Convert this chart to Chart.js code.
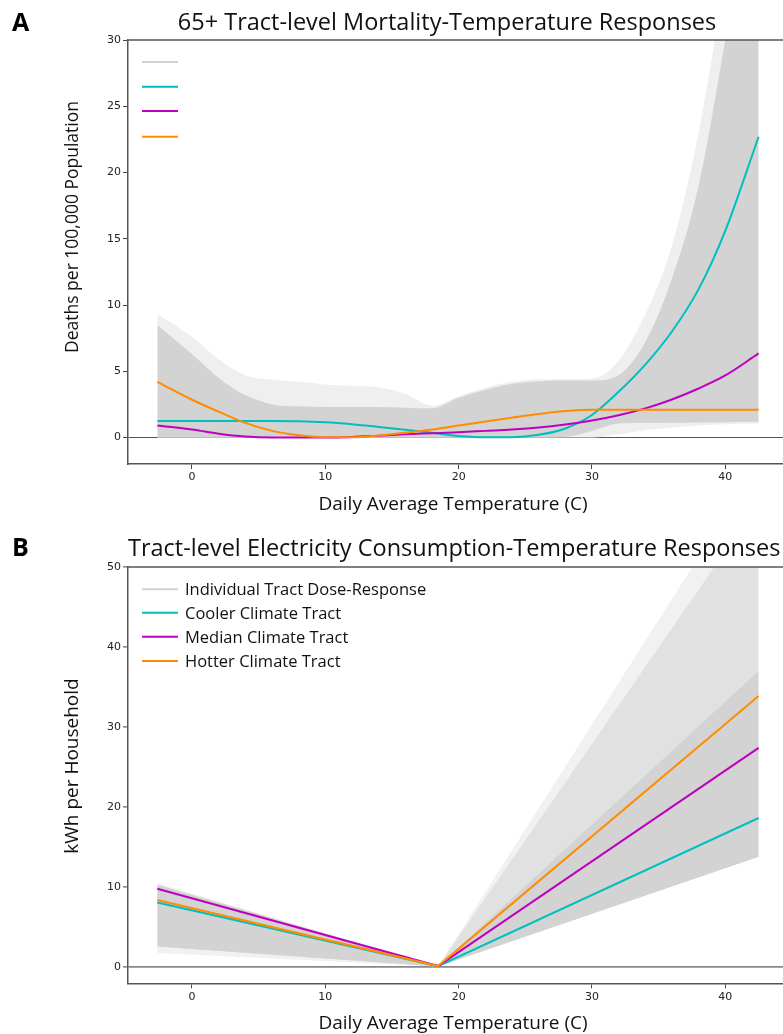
<!DOCTYPE html>
<html>
<head>
<meta charset="utf-8">
<script src="https://cdn.jsdelivr.net/npm/chart.js@4.4.1/dist/chart.umd.min.js"></script>
<style>
  body { margin: 0; background: #fff; }
  #wrap { position: relative; width: 783px; height: 1034px; overflow: hidden; }
  #top { position: absolute; left: 0; top: 0; }
  #bot { position: absolute; left: 0; top: 520px; }
</style>
</head>
<body>
<div id="wrap">
  <canvas id="top" width="783" height="520"></canvas>
  <canvas id="bot" width="783" height="514"></canvas>
</div>
<script>
// shared temperature ticks (deg C)
const xTicks = [0, 10, 20, 30, 40];

// panel A: mortality per 100,000 (65+)
const mortTemps    = [-2.6, 0, 2, 4, 6, 8, 10, 12, 14, 16, 18, 20, 22, 24, 26, 28, 30, 32, 34, 36, 38, 40, 42.5];
const mortCooler   = [1.25, 1.25, 1.25, 1.25, 1.25, 1.23, 1.15, 1.0, 0.8, 0.58, 0.35, 0.12, 0.02, 0.02, 0.2, 0.68, 1.7, 3.45, 5.5, 8.0, 11.2, 15.6, 22.7];
const mortMedian   = [0.9, 0.6, 0.28, 0.07, 0.0, 0.0, 0.0, 0.04, 0.14, 0.24, 0.32, 0.4, 0.5, 0.6, 0.75, 0.98, 1.28, 1.68, 2.2, 2.87, 3.7, 4.68, 6.35];
const mortHotter   = [4.2, 2.85, 1.95, 1.1, 0.5, 0.17, 0.02, 0.02, 0.15, 0.35, 0.6, 0.9, 1.2, 1.5, 1.78, 2.0, 2.1, 2.1, 2.1, 2.1, 2.1, 2.1, 2.1];
// spread of the individual tract curves (dense core and faint outliers)
const mortBandLow  = [0, 0, 0, 0, 0, 0, 0, 0, 0, 0, 0, 0, 0, 0, 0, 0.05, 0.5, 1.05, 1.1, 1.12, 1.14, 1.16, 1.18];
const mortBandHigh = [8.5, 6.3, 4.5, 3.2, 2.5, 2.35, 2.3, 2.3, 2.3, 2.25, 2.2, 3.0, 3.6, 4.05, 4.25, 4.3, 4.3, 4.7, 7.2, 12, 19, 30, 45];
const mortOuterLow = [0, 0, 0, 0, 0, 0, 0, 0, 0, 0, 0, 0, 0, 0, 0, 0, 0, 0.25, 0.55, 0.75, 0.9, 1.0, 1.05];
const mortOuterHigh= [9.3, 7.6, 5.9, 4.7, 4.35, 4.2, 4.0, 3.9, 3.8, 3.3, 2.4, 3.1, 3.75, 4.2, 4.4, 4.4, 4.45, 5.8, 9.3, 14.5, 23, 35, 52];
const mortTicks    = [0, 5, 10, 15, 20, 25, 30];

// panel B: electricity kWh per household
const elecTemps    = [-2.6, 18.45, 42.5];
const elecCooler   = [8.1, 0.15, 18.65];
const elecMedian   = [9.8, 0.15, 27.4];
const elecHotter   = [8.4, 0.15, 33.9];
const elecBandLow  = [2.6, 0.1, 13.8];
const elecBandHigh = [10.3, 0.1, 37];
const elecMidHigh  = [10.3, 0.1, 58];
const elecOuterLow = [1.8, 0.1, 13.8];
const elecOuterHigh= [10.5, 0.1, 63];
const elecTicks    = [0, 10, 20, 30, 40, 50];

const legendLabels = ['Individual Tract Dose-Response', 'Cooler Climate Tract', 'Median Climate Tract', 'Hotter Climate Tract'];

const CYAN = '#00bfbf', MAGENTA = '#bf00bf', ORANGE = '#ff8c00', GREY = '#d3d3d3';
const legendColors = [GREY, CYAN, MAGENTA, ORANGE];
const TXT = '"Open Sans", sans-serif';

Chart.defaults.font.family = '"DejaVu Sans", sans-serif';
Chart.defaults.font.size = 11;
Chart.defaults.color = '#222';

function pts(xs, ys) {
  return xs.map((x, i) => ({ x: x, y: ys[i] }));
}

function area(xs, ys, fillColor, order, smooth) {
  return {
    data: pts(xs, ys),
    borderWidth: 0,
    borderColor: 'rgba(0,0,0,0)',
    pointRadius: 0,
    fill: fillColor ? '-1' : false,
    backgroundColor: fillColor || 'rgba(0,0,0,0)',
    order: order,
    cubicInterpolationMode: smooth ? 'monotone' : 'default'
  };
}

function curve(xs, ys, color, order, smooth) {
  return {
    data: pts(xs, ys),
    borderColor: color,
    borderWidth: 2,
    pointRadius: 0,
    fill: false,
    order: order,
    cubicInterpolationMode: smooth ? 'monotone' : 'default'
  };
}

function xScale(h) {
  return {
    type: 'linear', min: -4.8, max: 44.33,
    afterBuildTicks: s => { s.ticks = xTicks.map(v => ({ value: v })); },
    afterFit: s => { s.height = h; s.paddingLeft = 0; s.paddingRight = 0; },
    grid: { drawOnChartArea: false, drawTicks: true, tickLength: 5, tickColor: '#444', tickWidth: 1 },
    border: { display: true, color: '#555', width: 1.5 },
    ticks: { padding: 2, maxRotation: 0 }
  };
}

function yScale(min, max, ticks, zeroColor, zeroWidth) {
  return {
    type: 'linear', min: min, max: max,
    afterBuildTicks: s => { s.ticks = ticks.map(v => ({ value: v })); },
    afterFit: s => { s.width = 128; s.paddingTop = 0; s.paddingBottom = 0; },
    grid: {
      color: c => (c.tick && c.tick.value === 0) ? zeroColor : 'rgba(0,0,0,0)',
      lineWidth: zeroWidth,
      drawTicks: true, tickLength: 5, tickColor: '#444', tickWidth: 1
    },
    border: { display: true, color: '#555', width: 1.5 },
    ticks: { padding: 2 }
  };
}

// titles, axis labels, top spine and the legend
function decor(d) {
  return {
    id: 'decor',
    afterDraw(chart) {
      const ctx = chart.ctx, a = chart.chartArea;
      ctx.save();
      ctx.strokeStyle = '#555';
      ctx.lineWidth = 1.5;
      ctx.beginPath();
      ctx.moveTo(a.left, a.top);
      ctx.lineTo(a.right, a.top);
      ctx.stroke();

      ctx.fillStyle = '#000';
      ctx.textBaseline = 'alphabetic';
      ctx.textAlign = 'left';
      ctx.font = 'bold 25px ' + TXT;
      ctx.fillText(d.letter, 12, d.letterY);

      ctx.fillStyle = '#111';
      ctx.font = '23.5px ' + TXT;
      ctx.textAlign = d.titleAlign;
      ctx.fillText(d.title, d.titleX, d.titleY);

      ctx.font = '19px ' + TXT;
      ctx.textAlign = 'center';
      ctx.fillText(d.xLabel, 453, d.xLabelY);

      ctx.save();
      ctx.font = d.yLabelSize + 'px ' + TXT;
      ctx.translate(73, d.yLabelY);
      ctx.rotate(-Math.PI / 2);
      ctx.textBaseline = 'middle';
      ctx.fillText(d.yLabel, 0, 0);
      ctx.restore();

      ctx.lineWidth = 2;
      ctx.font = '16.5px ' + TXT;
      ctx.textAlign = 'left';
      legendLabels.forEach((lab, i) => {
        const y = d.legendY[i];
        ctx.strokeStyle = legendColors[i];
        ctx.beginPath();
        ctx.moveTo(142, y);
        ctx.lineTo(178, y);
        ctx.stroke();
        if (d.legendText) {
          ctx.fillStyle = '#111';
          ctx.fillText(lab, 185, y + 5.9);
        }
      });
      ctx.restore();
    }
  };
}

new Chart(document.getElementById('top'), {
  type: 'line',
  data: {
    datasets: [
      area(mortTemps, mortOuterLow, null, 3, true),
      area(mortTemps, mortOuterHigh, '#efefef', 3, true),
      area(mortTemps, mortBandLow, null, 2, true),
      area(mortTemps, mortBandHigh, GREY, 2, true),
      curve(mortTemps, mortCooler, CYAN, 0.2, true),
      curve(mortTemps, mortMedian, MAGENTA, 0.1, true),
      curve(mortTemps, mortHotter, ORANGE, 0, true)
    ]
  },
  options: {
    responsive: false,
    animation: false,
    layout: { padding: { top: 40, left: 0, right: 0, bottom: 0 } },
    scales: {
      x: xScale(56),
      y: yScale(-2, 30, mortTicks, '#555', 1)
    },
    plugins: { legend: { display: false }, tooltip: { enabled: false } }
  },
  plugins: [decor({
    letter: 'A', letterY: 31,
    title: '65+ Tract-level Mortality-Temperature Responses', titleAlign: 'center', titleX: 447, titleY: 29.5,
    xLabel: 'Daily Average Temperature (C)', xLabelY: 509.5,
    yLabel: 'Deaths per 100,000 Population', yLabelY: 227, yLabelSize: 17.5,
    legendY: [62, 86.7, 111, 136.7], legendText: false
  })]
});

new Chart(document.getElementById('bot'), {
  type: 'line',
  data: {
    datasets: [
      area(elecTemps, elecOuterLow, null, 4, false),
      area(elecTemps, elecOuterHigh, '#f1f1f1', 4, false),
      area(elecTemps, elecBandLow, null, 3, false),
      area(elecTemps, elecMidHigh, '#e1e1e1', 3, false),
      area(elecTemps, elecBandLow, null, 2, false),
      area(elecTemps, elecBandHigh, GREY, 2, false),
      curve(elecTemps, elecCooler, CYAN, 0.2, false),
      curve(elecTemps, elecMedian, MAGENTA, 0.1, false),
      curve(elecTemps, elecHotter, ORANGE, 0, false)
    ]
  },
  options: {
    responsive: false,
    animation: false,
    layout: { padding: { top: 47, left: 0, right: 0, bottom: 0 } },
    scales: {
      x: xScale(50.7),
      y: yScale(-2, 50, elecTicks, '#888', 1.8)
    },
    plugins: { legend: { display: false }, tooltip: { enabled: false } }
  },
  plugins: [decor({
    letter: 'B', letterY: 36,
    title: 'Tract-level Electricity Consumption-Temperature Responses', titleAlign: 'left', titleX: 128, titleY: 36,
    xLabel: 'Daily Average Temperature (C)', xLabelY: 509.3,
    yLabel: 'kWh per Household', yLabelY: 246, yLabelSize: 19,
    legendY: [69.3, 92.7, 116.7, 141], legendText: true
  })]
});
</script>
</body>
</html>
